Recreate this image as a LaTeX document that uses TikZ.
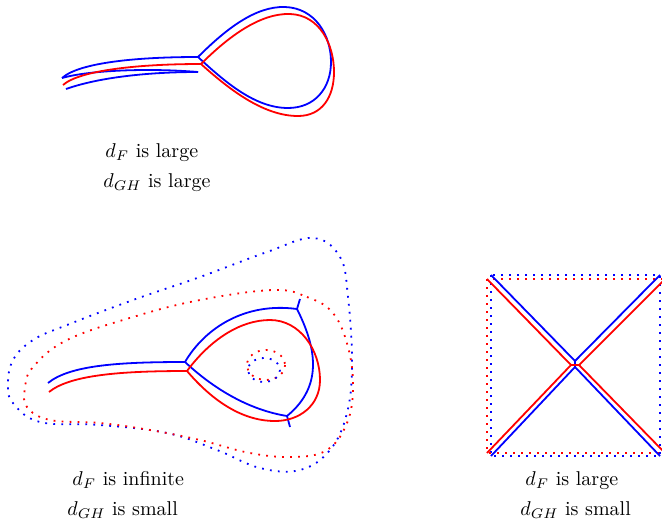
\documentclass[tikz,border=0pt]{standalone}
\begin{document}
\begin{tikzpicture}[x=0.5pt,y=-0.5pt,
  solidline/.style={line width=0.9pt, line join=round},
  dotline/.style={line width=0.9pt, dash pattern=on 0.9pt off 3.1pt},
  lbl/.style={anchor=base west, inner sep=0pt}]
\useasboundingbox (0,0) rectangle (662,520);
\clip (0,0) rectangle (662,520);

% ---------- top figure ----------
\coordinate (tb) at (198,57);
\coordinate (tr) at (201,64);
\draw[solidline, blue] (tb) .. controls (225,30) and (255,6) .. (285,7)
   .. controls (315,8) and (331,35) .. (331,62)
   .. controls (331,88) and (315,108) .. (288,108)
   .. controls (255,108) and (225,82) .. (tb);
\draw[solidline, red] (tr) .. controls (228,37) and (260,13) .. (290,14)
   .. controls (320,15) and (334,45) .. (334,72)
   .. controls (334,97) and (322,116) .. (298,116)
   .. controls (265,116) and (232,92) .. (tr);
\draw[solidline, blue] (tb) .. controls (140,57) and (80,62) .. (62,78);
\draw[solidline, blue] (62,78) .. controls (90,70) and (150,68) .. (198,72);
\draw[solidline, blue] (66,89) .. controls (100,77) and (150,72) .. (198,72);
\draw[solidline, red] (tr) .. controls (140,64) and (80,70) .. (63,85);

\node[lbl] (t1) at (105,157) {$d_F$ is large};
\node[lbl] (t2) at (103,187) {$d_{GH}$ is large};

% ---------- bottom-left figure ----------
\draw[dotline, blue] plot[smooth cycle, tension=0.65] coordinates {(313,238) (340,257) (348,297) (352,363) (347,413) (330,450) (300,470) (260,468) (217,450) (167,433) (100,425) (40,422) (13,403) (8,385) (13,360) (33,340) (67,325) (133,300) (200,277) (267,252)};
\draw[dotline, red] plot[smooth cycle, tension=0.65] coordinates {(273,290) (307,297) (333,313) (348,347) (353,387) (347,423) (327,450) (293,457) (250,453) (200,440) (150,430) (100,423) (50,420) (27,407) (25,388) (33,367) (67,340) (133,317) (200,300)};
\draw[dotline, red] (266,365) ellipse [x radius=19, y radius=15];
\draw[dotline, blue] (264,370) ellipse [x radius=16, y radius=12];

\coordinate (jb) at (185,362);
\coordinate (jr) at (187,371);
\coordinate (vt) at (297,309);
\coordinate (vb) at (287,416);
\draw[solidline, blue] (48,383) .. controls (70,365) and (120,362) .. (jb);
\draw[solidline, red] (49,392) .. controls (70,375) and (120,371) .. (jr);
\draw[solidline, blue] (jb) .. controls (205,328) and (245,302) .. (vt);
\draw[solidline, blue] (vt) .. controls (315,345) and (325,385) .. (vb);
\draw[solidline, blue] (vb) .. controls (250,410) and (215,390) .. (jb);
\draw[solidline, blue] (vt) -- (300,299);
\draw[solidline, blue] (vb) -- (290,427);
\draw[solidline, red] (jr) .. controls (210,340) and (240,320) .. (270,320)
   .. controls (300,320) and (320,350) .. (320,380)
   .. controls (320,405) and (300,421) .. (275,421)
   .. controls (240,421) and (210,398) .. (jr);

\node[lbl] (b1) at (72,485) {$d_F$ is infinite};
\node[lbl] (b2) at (67,515) {$d_{GH}$ is small};

% ---------- bottom-right figure ----------
\draw[dotline, blue] (491,275) rectangle (660,456);
\draw[dotline, red] (487,279) rectangle (665,453);
\coordinate (bu) at (575,361);
\coordinate (bd) at (575,367);
\coordinate (rl) at (571,365);
\coordinate (rr) at (579,365);
\draw[solidline, blue] (491,275) -- (bu) -- (660,275);
\draw[solidline, blue] (491,456) -- (bd) -- (660,456);
\draw[solidline, blue] (bu) -- (bd);
\draw[solidline, red] (487,279) -- (rl) -- (487,453);
\draw[solidline, red] (665,279) -- (rr) -- (665,453);
\draw[solidline, red] (rl) -- (rr);

\node[lbl] (r1) at (525,485) {$d_F$ is large};
\node[lbl] (r2) at (520,515) {$d_{GH}$ is small};
\end{tikzpicture}
\end{document}
